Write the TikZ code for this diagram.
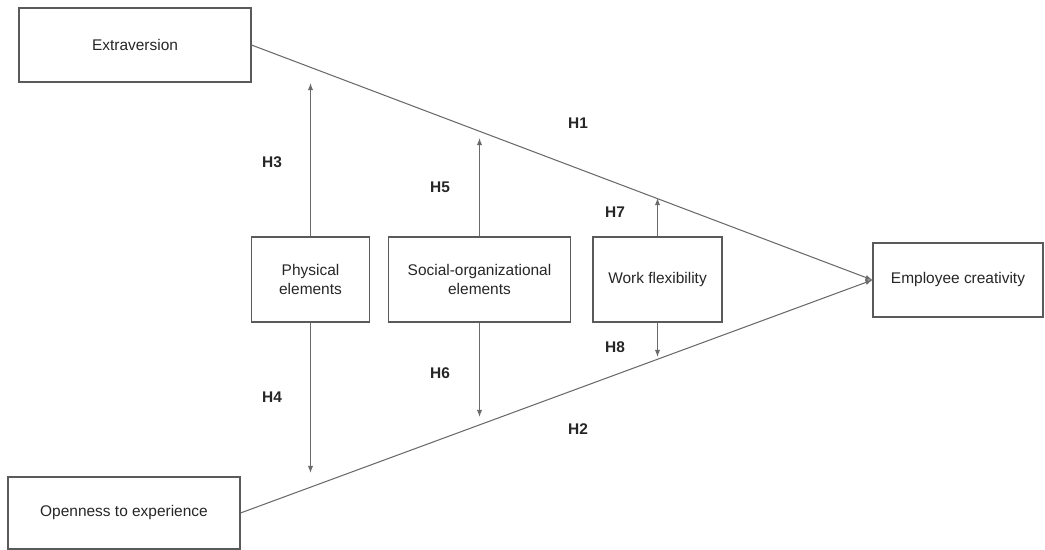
\documentclass[tikz,border=0pt]{standalone}
\usepackage{fontspec}
\setmainfont{Liberation Sans}
\usepackage{tikz}
\usetikzlibrary{arrows.meta}
\usepackage{xcolor}
\definecolor{linegray}{HTML}{6A6A6A}
\definecolor{boxgray}{HTML}{5A5A5A}

\tikzset{
  varbox/.style={draw=boxgray, line width=0.6pt, align=center, inner sep=0pt,
    font=\fontsize{8.8}{10.8}\selectfont, text=black!85},
  hlabel/.style={font=\fontsize{8.8}{10.8}\selectfont\bfseries, text=black!85},
  link/.style={draw=linegray, line width=0.6pt}
}

\begin{document}
\begin{tikzpicture}[x=0.02cm, y=-0.02cm, >={Latex[length=4pt, width=3pt]}]
  \useasboundingbox (0, 0) rectangle (1045, 550);

  \node[varbox, minimum width=4.64cm, minimum height=1.48cm] (extra) at (135, 45) {Extraversion};
  \node[varbox, minimum width=4.64cm, minimum height=1.44cm] (open) at (124, 513) {Openness to experience};
  \node[varbox, minimum width=3.4cm, minimum height=1.48cm] (creat) at (958, 280) {Employee creativity};

  \node[varbox, minimum width=2.36cm, minimum height=1.7cm] (phys) at (310.5, 279.5) {Physical\\elements};
  \node[varbox, minimum width=3.64cm, minimum height=1.7cm] (social) at (479.5, 279.5) {Social-organizational\\elements};
  \node[varbox, minimum width=2.58cm, minimum height=1.7cm] (flex) at (657.5, 279.5) {Work flexibility};

  % main paths
  \draw[link, ->] (extra.east) -- (creat.west);
  \draw[link, ->] (open.east) -- (creat.west);

  % moderation arrows
  \coordinate (physup) at (310.5, 83);
  \coordinate (physdown) at (310.5, 473);
  \coordinate (socup) at (479.5, 138);
  \coordinate (socdown) at (479.5, 417);
  \coordinate (flexup) at (657.5, 198);
  \coordinate (flexdown) at (657.5, 357);

  \draw[link, ->] (phys.north) -- (physup);
  \draw[link, ->] (phys.south) -- (physdown);
  \draw[link, ->] (social.north) -- (socup);
  \draw[link, ->] (social.south) -- (socdown);
  \draw[link, ->] (flex.north) -- (flexup);
  \draw[link, ->] (flex.south) -- (flexdown);

  \node[hlabel] (h1) at (578, 123) {H1};
  \node[hlabel] (h2) at (578, 429) {H2};
  \node[hlabel] (h3) at (272, 162) {H3};
  \node[hlabel] (h4) at (272, 397) {H4};
  \node[hlabel] (h5) at (440, 187) {H5};
  \node[hlabel] (h6) at (440, 373) {H6};
  \node[hlabel] (h7) at (615, 212) {H7};
  \node[hlabel] (h8) at (615, 347) {H8};
\end{tikzpicture}
\end{document}
